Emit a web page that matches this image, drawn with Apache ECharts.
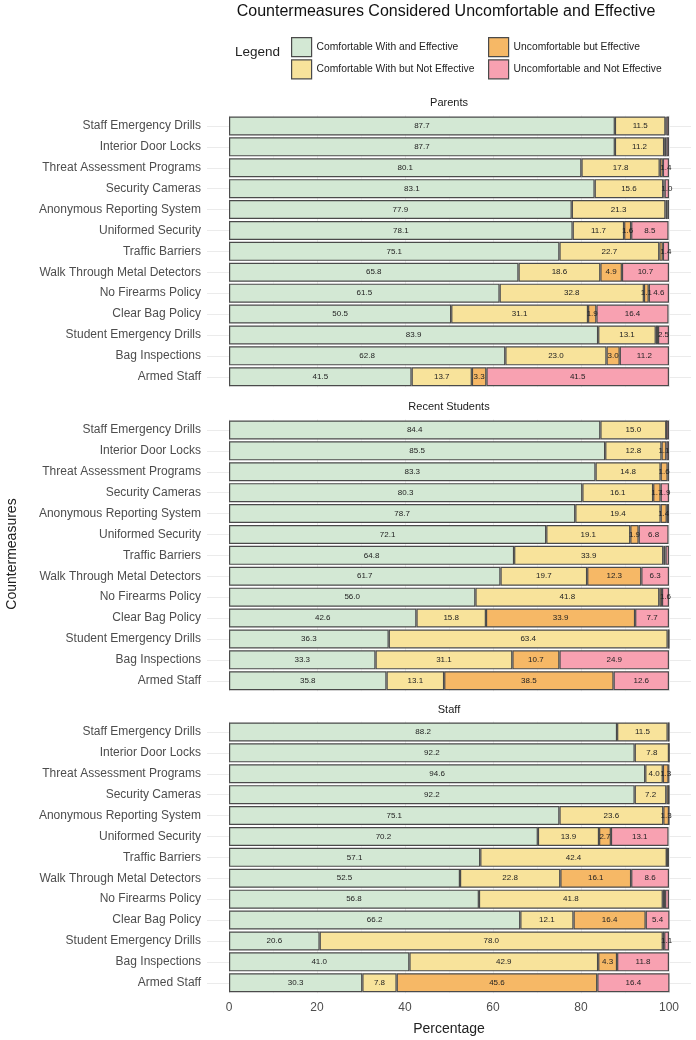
<!DOCTYPE html>
<html><head><meta charset="utf-8">
<script src="https://cdn.jsdelivr.net/npm/echarts@6/dist/echarts.min.js"></script>
<style>html,body{margin:0;padding:0;background:#fff}#c{width:696px;height:1040px}</style>
</head><body><div id="c"></div>
<script>
const categories = ["Staff Emergency Drills","Interior Door Locks","Threat Assessment Programs","Security Cameras","Anonymous Reporting System","Uniformed Security","Traffic Barriers","Walk Through Metal Detectors","No Firearms Policy","Clear Bag Policy","Student Emergency Drills","Bag Inspections","Armed Staff"];
const seriesNames = ["Comfortable With and Effective","Comfortable With but Not Effective","Uncomfortable but Effective","Uncomfortable and Not Effective"];
const panelNames = ["Parents","Recent Students","Staff"];
const xTicks = [0,20,40,60,80,100];

const parentsComfEff   = [87.7,87.7,80.1,83.1,77.9,78.1,75.1,65.8,61.5,50.5,83.9,62.8,41.5];
const parentsComfNot   = [11.5,11.2,17.8,15.6,21.3,11.7,22.7,18.6,32.8,31.1,13.1,23.0,13.7];
const parentsUncEff    = [0.2,0.5,0.7,0.3,0.5,1.6,0.8,4.9,1.1,1.9,0.5,3.0,3.3];
const parentsUncNot    = [0.6,0.6,1.4,1.0,0.3,8.5,1.4,10.7,4.6,16.4,2.5,11.2,41.5];

const studentsComfEff  = [84.4,85.5,83.3,80.3,78.7,72.1,64.8,61.7,56.0,42.6,36.3,33.3,35.8];
const studentsComfNot  = [15.0,12.8,14.8,16.1,19.4,19.1,33.9,19.7,41.8,15.8,63.4,31.1,13.1];
const studentsUncEff   = [0.0,1.1,1.6,1.7,1.4,1.9,0.5,12.3,0.6,33.9,0.3,10.7,38.5];
const studentsUncNot   = [0.6,0.6,0.3,1.9,0.5,6.8,0.8,6.3,1.6,7.7,0.0,24.9,12.6];

const staffComfEff     = [88.2,92.2,94.6,92.2,75.1,70.2,57.1,52.5,56.8,66.2,20.6,41.0,30.3];
const staffComfNot     = [11.5,7.8,4.0,7.2,23.6,13.9,42.4,22.8,41.8,12.1,78.0,42.9,7.8];
const staffUncEff      = [0.3,0.0,1.3,0.6,1.3,2.7,0.0,16.1,0.5,16.4,0.3,4.3,45.6];
const staffUncNot      = [0.0,0.0,0.1,0.0,0.0,13.1,0.5,8.6,0.9,5.4,1.1,11.8,16.4];

const panelData = [
  [parentsComfEff, parentsComfNot, parentsUncEff, parentsUncNot],
  [studentsComfEff, studentsComfNot, studentsUncEff, studentsUncNot],
  [staffComfEff, staffComfNot, staffUncEff, staffUncNot]
];

const colors = ['#d3e8d4','#f8e39b','#f6b866','#f8a1b1'];
const FONT = 'Liberation Sans, Arial, sans-serif';
const gridTops = [115.5, 419.5, 721.5];
const band = 20.9;
const gridH = band*13;
const L = 229, W = 440;

const grids = [], xAxes = [], yAxes = [], series = [];
panelData.forEach((pd, p) => {
  grids.push({left: L, top: gridTops[p], width: W, height: gridH, containLabel: false});
  xAxes.push({
    type: 'value', gridIndex: p, min: 0, max: 100, interval: 10,
    axisLine: {show: false}, axisTick: {show: false},
    axisLabel: {show: p === 2, color: '#4d4d4d', fontSize: 12, fontFamily: FONT, margin: 8,
      formatter: v => (xTicks.indexOf(v) >= 0 ? String(v) : '')},
    splitLine: {show: true, lineStyle: {color: ['#e6e6e6', '#f3f3f3'], width: 0.8}}
  });
  yAxes.push({
    type: 'category', gridIndex: p, data: categories, inverse: true, position: 'left',
    axisLine: {show: false},
    axisTick: {show: true, alignWithLabel: true, length: 22, lineStyle: {color: '#e6e6e6', width: 0.8}},
    axisLabel: {color: '#4d4d4d', fontSize: 12, fontFamily: FONT, margin: 28},
    splitLine: {show: false}
  });
  yAxes.push({
    type: 'category', gridIndex: p, data: categories, inverse: true, position: 'right',
    axisLine: {show: false},
    axisTick: {show: true, alignWithLabel: true, length: 22, lineStyle: {color: '#e6e6e6', width: 0.8}},
    axisLabel: {show: false}, splitLine: {show: false}
  });
  pd.forEach((arr, s) => {
    series.push({
      name: seriesNames[s], type: 'bar', stack: 'p' + p,
      xAxisIndex: p, yAxisIndex: p * 2,
      barWidth: 19,
      data: arr,
      itemStyle: {color: colors[s], borderColor: '#4a4a4a', borderWidth: 1.2},
      label: {show: true, position: 'inside', fontSize: 8, color: '#222', fontFamily: FONT,
        formatter: d => (d.value >= 1 ? d.value.toFixed(1) : '')},
      emphasis: {disabled: true}
    });
  });
});

const graphics = [
  {type: 'text', x: 446, y: 12, style: {text: 'Countermeasures Considered Uncomfortable and Effective', font: '16px ' + FONT, fill: '#111', align: 'center', verticalAlign: 'middle'}},
  {type: 'text', x: 235, y: 52, style: {text: 'Legend', font: '13.5px ' + FONT, fill: '#222', align: 'left', verticalAlign: 'middle'}},
  {type: 'text', x: 449, y: 1029, style: {text: 'Percentage', font: '14px ' + FONT, fill: '#222', align: 'center', verticalAlign: 'middle'}},
  {type: 'text', x: 12, y: 554, rotation: Math.PI/2, style: {text: 'Countermeasures', font: '14px ' + FONT, fill: '#222', align: 'center', verticalAlign: 'middle'}}
];
const stripY = [103, 407, 710];
panelNames.forEach((n, i) => graphics.push({type: 'text', x: 449, y: stripY[i], style: {text: n, font: '11px ' + FONT, fill: '#1a1a1a', align: 'center', verticalAlign: 'middle'}}));

const legendCommon = {
  orient: 'vertical', itemWidth: 20, itemHeight: 19, itemGap: 2, selectedMode: false,
  textStyle: {fontSize: 10.3, color: '#222', fontFamily: FONT},
  itemStyle: {borderColor: '#4a4a4a', borderWidth: 1.2}, icon: 'rect'
};

const chart = echarts.init(document.getElementById('c'), null, {renderer: 'canvas'});
chart.setOption({
  animation: false,
  backgroundColor: '#fff',
  grid: grids, xAxis: xAxes, yAxis: yAxes, series: series,
  legend: [
    Object.assign({left: 286, top: 32, data: [seriesNames[0], seriesNames[1]]}, legendCommon),
    Object.assign({left: 483, top: 32, data: [seriesNames[2], seriesNames[3]]}, legendCommon)
  ],
  graphic: graphics
});
</script></body></html>
